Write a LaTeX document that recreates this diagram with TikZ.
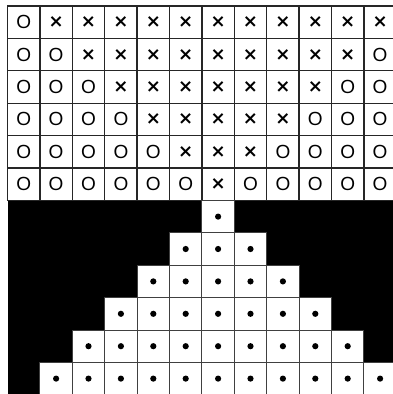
\documentclass[tikz,border=0pt]{standalone}
\usepackage{fontspec}
\setmainfont{Liberation Sans}
\newfontfamily\crossfont{DejaVu Sans}
\begin{document}
\begin{tikzpicture}[x=1pt,y=-1pt,
  cell/.style={draw=black!85, line width=1.3pt, minimum size=32.4pt, inner sep=0pt, fill=white, font=\fontsize{19}{19}\selectfont},
  dotcell/.style={draw=black!75, line width=1pt, minimum size=32.4pt, inner sep=0pt, fill=white},
  dotmark/.style={fill=black}]
\useasboundingbox (0,0) rectangle (392,394);
\fill[white] (0,0) rectangle (392,394);
% black lower field
\fill[black] (7.5,200.4) rectangle (400,400);
% upper rows
\foreach \r in {0,...,5}{
  \foreach \c in {0,...,11}{
    \pgfmathsetmacro{\cx}{7.5+(\c+0.5)*32.4}
    \pgfmathsetmacro{\cy}{6+(\r+0.5)*32.4}
    \pgfmathtruncatemacro{\isx}{and(\c>\r, \c<12-\r)}
    \ifnum\isx=1
      \node[cell] (c\r-\c) at (\cx,\cy) {\crossfont\bfseries\fontsize{18}{18}\selectfont ×};
    \else
      \node[cell] (c\r-\c) at (\cx,\cy) {O};
    \fi
  }
}
% lower pyramid
\foreach \r in {6,...,11}{
  \foreach \c in {0,...,11}{
    \pgfmathsetmacro{\cx}{7.5+(\c+0.5)*32.4}
    \pgfmathsetmacro{\cy}{6+(\r+0.5)*32.4}
    \pgfmathtruncatemacro{\isw}{abs(\c-6)<=(\r-6)}
    \ifnum\isw=1
      \node[dotcell] (c\r-\c) at (\cx,\cy) {};
      \fill[dotmark] (c\r-\c.center) circle (3.1);
    \fi
  }
}
\end{tikzpicture}
\end{document}
